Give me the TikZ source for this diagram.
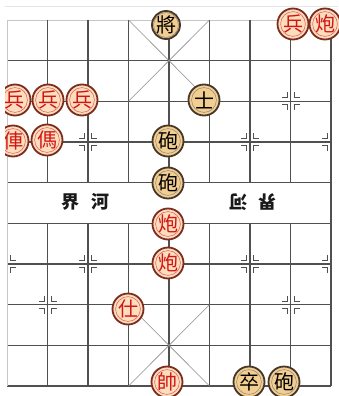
\documentclass[tikz,border=0pt]{standalone}
\usepackage{fontspec}
\newfontfamily\cjk{Noto Sans CJK TC}
\usetikzlibrary{positioning}
\definecolor{boardline}{RGB}{80,80,80}
\definecolor{hanred}{RGB}{210,20,20}
\definecolor{hanfill}{RGB}{252,222,190}
\definecolor{hanring}{RGB}{125,45,30}
\definecolor{chufill}{RGB}{243,206,145}
\definecolor{churing}{RGB}{70,55,40}

% star point: x, y, sides (-1 = left, 1 = right)
\newcommand{\posmark}[3]{%
  \begin{scope}[shift={(#1,#2)}]
    \foreach \sx in {#3}{
      \foreach \sy in {-1,1}{
        \draw[markline] (\sx*9,\sy*3.5) -- (\sx*3.5,\sy*3.5) -- (\sx*3.5,\sy*9);
      }
    }
  \end{scope}%
}

\begin{document}
\begin{tikzpicture}[x=1pt, y=-1pt, every node/.style={font=\cjk}]
  \tikzset{
    gridline/.style={boardline, line width=1.1pt},
    edgeline/.style={gray!45, line width=0.8pt},
    palaceline/.style={gray!90, line width=0.6pt},
    markline/.style={boardline, line width=0.8pt},
    rivertext/.style={font=\cjk\bfseries\fontsize{18}{18}\selectfont, text=black!90},
    piece/.style={circle, minimum size=31pt, inner sep=0pt, line width=1.8pt,
      font=\cjk\fontsize{20}{20}\selectfont},
    redpiece/.style={piece, draw=hanring, fill=hanfill, text=hanred,
      path picture={\draw[hanred!70, line width=0.5pt] (path picture bounding box.center) circle (12.4pt);}},
    blackpiece/.style={piece, draw=churing, fill=chufill, text=black,
      path picture={\draw[churing!60, line width=0.5pt] (path picture bounding box.center) circle (12.4pt);}}
  }
  \useasboundingbox (0,0) rectangle (338,396);
  \fill[white] (0,0) rectangle (338,396);

  % faint strip line at the top
  \draw[gray!20, line width=0.8pt] (0,6) -- (338,6);

  % ranks
  \foreach \j in {1,...,9}
    \draw[gridline] (7,20+40.67*\j) -- (331,20+40.67*\j);
  \draw[edgeline] (7,20) -- (331,20);

  % files, broken by the river
  \foreach \i in {1,...,7}{
    \draw[gridline] (7+40.5*\i,20) -- (7+40.5*\i,182.7);
    \draw[gridline] (7+40.5*\i,223.3) -- (7+40.5*\i,386);
  }
  \draw[edgeline] (7,20) -- (7,386);
  \draw[gridline] (331,20) -- (331,386);

  % palaces
  \draw[palaceline] (128.5,20) -- (209.5,101.3) (209.5,20) -- (128.5,101.3);
  \draw[palaceline] (128.5,304.7) -- (209.5,386) (209.5,304.7) -- (128.5,386);

  % star points, top half
  \posmark{47.5}{101.3}{-1,1}
  \posmark{290.5}{101.3}{-1,1}
  \posmark{7}{142}{1}
  \posmark{88}{142}{-1,1}
  \posmark{169}{142}{-1,1}
  \posmark{250}{142}{-1,1}
  \posmark{331}{142}{-1}
  % star points, bottom half
  \posmark{7}{264}{1}
  \posmark{88}{264}{-1,1}
  \posmark{169}{264}{-1,1}
  \posmark{250}{264}{-1,1}
  \posmark{331}{264}{-1}
  \posmark{47.5}{304.7}{-1,1}
  \posmark{290.5}{304.7}{-1,1}

  % river
  \node[rivertext] (jieL) at (70,202) {界};
  \node[rivertext] (heL) at (100,202) {河};
  \node[rivertext, rotate=180] (heR) at (238,202) {河};
  \node[rivertext, rotate=180] (jieR) at (267,202) {界};

  % black side
  \node[blackpiece, minimum size=28pt] (jiang) at (166,25) {將};
  \node[blackpiece] (shi) at (204,100) {士};
  \node[blackpiece] (pao1) at (168,141) {砲};
  \node[blackpiece] (pao2) at (168,183) {砲};
  \node[blackpiece] (zu) at (249,382) {卒};
  \node[blackpiece] (pao3) at (284,382) {砲};

  % red side
  \node[redpiece] (bing1) at (293,24) {兵};
  \node[redpiece] (paoR1) at (325,24) {炮};
  \node[redpiece] (bing2) at (15,100) {兵};
  \node[redpiece] (bing3) at (48,100) {兵};
  \node[redpiece] (bing4) at (82,100) {兵};
  \node[redpiece] (ju) at (13,141) {俥};
  \node[redpiece] (ma) at (47,140) {傌};
  \node[redpiece] (paoR2) at (168,224) {炮};
  \node[redpiece] (paoR3) at (168,263) {炮};
  \node[redpiece] (shiR) at (128,309) {仕};
  \node[redpiece] (shuai) at (167,382) {帥};

  % left margin cuts the edge pieces
  \fill[white] (0,0) rectangle (5,396);
\end{tikzpicture}
\end{document}
